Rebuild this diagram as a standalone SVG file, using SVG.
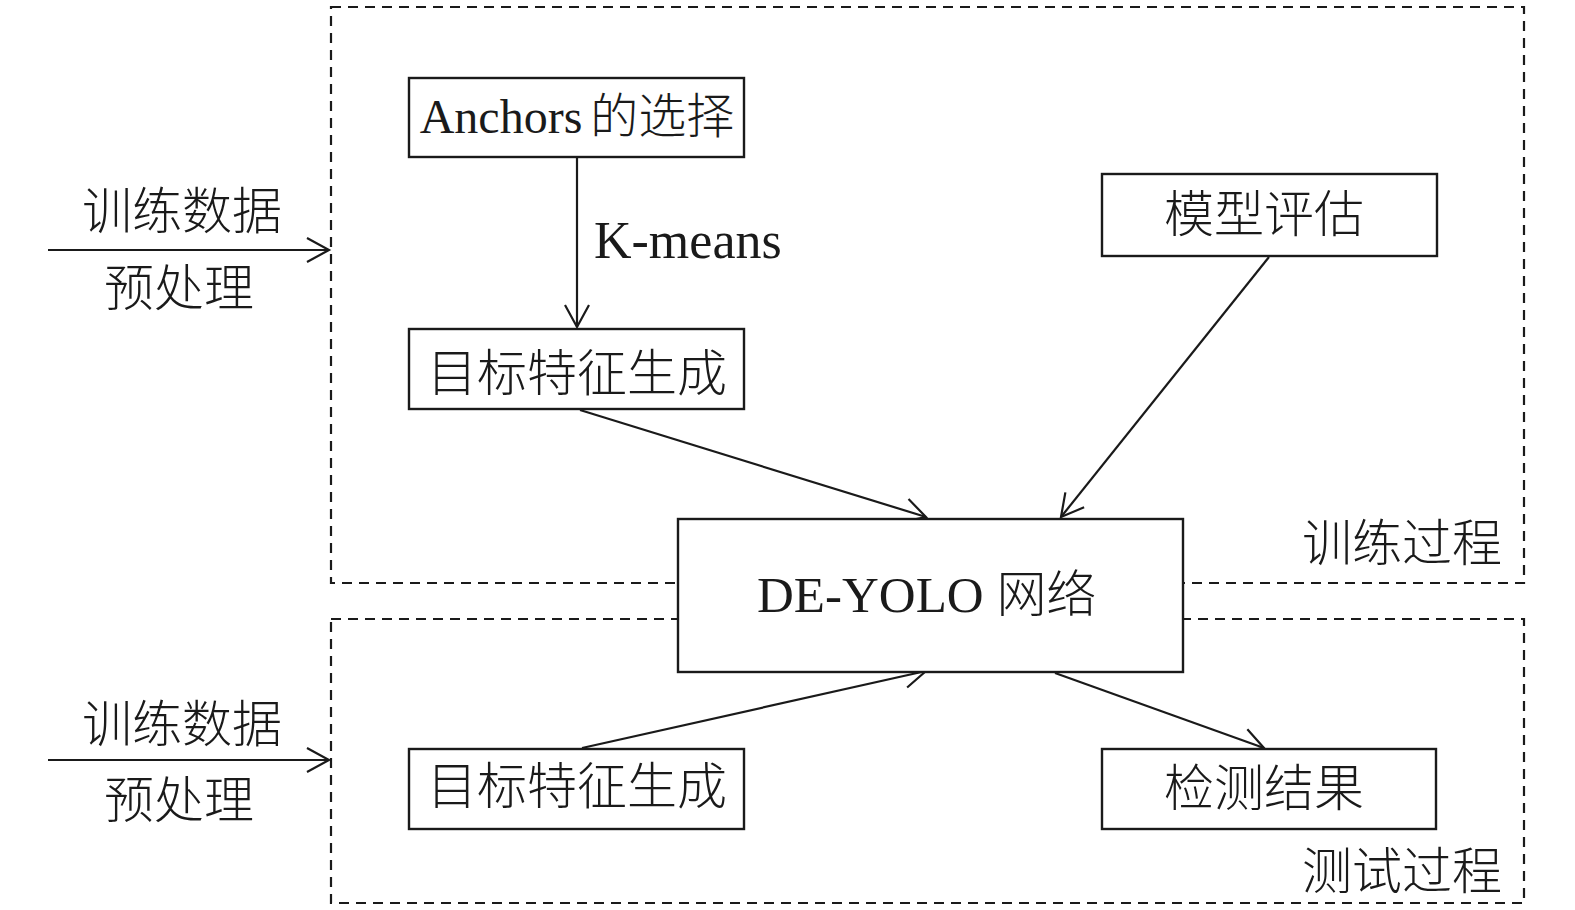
<svg xmlns="http://www.w3.org/2000/svg" width="1575" height="910" viewBox="0 0 1575 910">
<style>
.box{fill:#fff;stroke:#1a1a1a;stroke-width:2.4}
.dash{fill:none;stroke:#1a1a1a;stroke-width:2.2;stroke-dasharray:10 7}
.ln{fill:none;stroke:#1a1a1a;stroke-width:2.2;marker-end:url(#arr)}
.cn{font-family:"Noto Sans CJK SC","Noto Sans CJK JP",sans-serif;font-size:50px;fill:#1a1a1a;font-weight:300}
.lt{font-family:"Liberation Serif","Times New Roman",serif;font-size:50px;fill:#1a1a1a}
</style>
<defs>
<marker id="arr" markerUnits="userSpaceOnUse" markerWidth="30" markerHeight="30" viewBox="-25 -15 30 30" refX="0" refY="0" orient="auto">
<path d="M-22,-12 L0,0 L-22,12" fill="none" stroke="#1a1a1a" stroke-width="2.2"/>
</marker>
</defs>
<g id="regions">
<rect class="dash" x="331" y="7" width="1193" height="576"/>
<rect class="dash" x="331" y="619" width="1193" height="284"/>
<text class="cn" x="1402" y="561" text-anchor="middle">训练过程</text>
<text class="cn" x="1402" y="889" text-anchor="middle">测试过程</text>
</g>
<g id="connectors">
<line class="ln" x1="48" y1="250" x2="329" y2="250"/>
<line class="ln" x1="48" y1="760" x2="329" y2="760"/>
<line class="ln" x1="577" y1="157" x2="577" y2="327"/>
<line class="ln" x1="580" y1="410" x2="926" y2="517"/>
<line class="ln" x1="1269" y1="257" x2="1061" y2="517"/>
<line class="ln" x1="582" y1="748" x2="926" y2="671"/>
<line class="ln" x1="1055" y1="673" x2="1264" y2="748"/>
<text class="lt" x="594" y="258" style="font-size:52px">K-means</text>
</g>
<g id="input-train">
<text class="cn" x="182" y="229" text-anchor="middle">训练数据</text>
<text class="cn" x="179" y="306" text-anchor="middle">预处理</text>
</g>
<g id="input-test">
<text class="cn" x="182" y="742" text-anchor="middle">训练数据</text>
<text class="cn" x="179" y="818" text-anchor="middle">预处理</text>
</g>
<g id="anchors">
<rect class="box" x="409" y="78" width="335" height="79"/>
<text x="577" y="133" text-anchor="middle"><tspan class="lt" style="font-size:48px">Anchors</tspan><tspan class="cn" style="font-size:48px" dx="8">的选择</tspan></text>
</g>
<g id="feat-train">
<rect class="box" x="409" y="329" width="335" height="80"/>
<text class="cn" x="577" y="391" text-anchor="middle">目标特征生成</text>
</g>
<g id="eval">
<rect class="box" x="1102" y="174" width="335" height="82"/>
<text class="cn" x="1264" y="232" text-anchor="middle">模型评估</text>
</g>
<g id="deyolo">
<rect class="box" x="678" y="519" width="505" height="153"/>
<text x="757" y="612"><tspan class="lt" style="font-size:51px">DE-YOLO </tspan><tspan class="cn">网络</tspan></text>
</g>
<g id="feat-test">
<rect class="box" x="409" y="749" width="335" height="80"/>
<text class="cn" x="577" y="804" text-anchor="middle">目标特征生成</text>
</g>
<g id="result">
<rect class="box" x="1102" y="749" width="334" height="80"/>
<text class="cn" x="1264" y="806" text-anchor="middle">检测结果</text>
</g>
</svg>
